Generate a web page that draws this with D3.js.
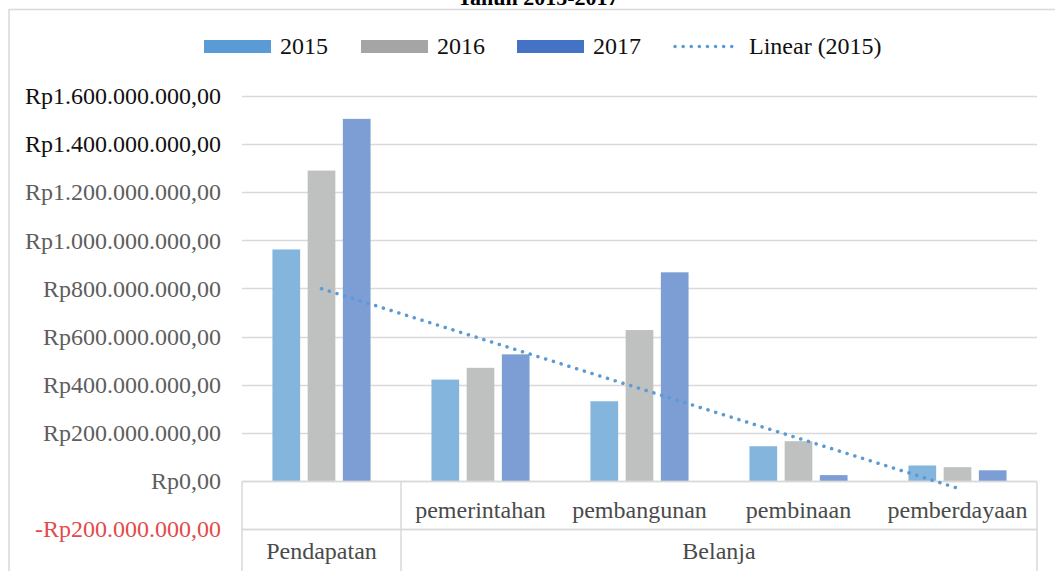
<!DOCTYPE html>
<html>
<head>
<meta charset="utf-8">
<script src="https://cdn.jsdelivr.net/npm/d3@7"></script>
<style>
  html, body { margin: 0; padding: 0; background: #fff; }
  svg { display: block; font-family: "Liberation Serif", "Times New Roman", serif; }
</style>
</head>
<body>
<svg id="chart" width="1055" height="571"></svg>
<script>
// ---- data ----
const title = "Tahun 2015-2017";
const categories = ["", "pemerintahan", "pembangunan", "pembinaan", "pemberdayaan"];
const groupNames = ["Pendapatan", "Belanja"];
const groupOf = ["Pendapatan", "Belanja", "Belanja", "Belanja", "Belanja"];
const years = ["2015", "2016", "2017"];
const values2015 = [962e6, 421e6, 331e6, 144e6, 64e6];
const values2016 = [1290e6, 470e6, 627e6, 165e6, 57e6];
const values2017 = [1505e6, 526e6, 867e6, 24e6, 44e6];
const yTicks = [-200e6, 0, 200e6, 400e6, 600e6, 800e6, 1000e6, 1200e6, 1400e6, 1600e6];
const trendLabel = "Linear (2015)";

// ---- styles ----
const legendColors = { "2015": "#5B9BD5", "2016": "#A5A5A5", "2017": "#4472C4" };
const barColors = { "2015": "#84B5DD", "2016": "#BEC1BF", "2017": "#7C9ED4" };
const gridColor = "#D9D9D9";

const series = { "2015": values2015, "2016": values2016, "2017": values2017 };

const svg = d3.select("#chart");
const plotL = 242, plotR = 1037, plotT = 96, plotB = 529;

const x0 = d3.scaleBand().domain(d3.range(categories.length)).range([plotL, plotR]).padding(0);
const x1 = d3.scaleBand().domain(years).range([0, x0.bandwidth()]).paddingInner(0.213).paddingOuter(0.865);
const y = d3.scaleLinear().domain([yTicks[0], yTicks[yTicks.length - 1]]).range([plotB, plotT]);

const loc = d3.formatLocale({ decimal: ",", thousands: ".", grouping: [3], currency: ["Rp", ""], minus: "-" });
const fmt = loc.format("$,.2f");

// chart border
svg.append("rect").attr("x", 9).attr("y", 9.5).attr("width", 1100).attr("height", 600)
  .attr("fill", "none").attr("stroke", gridColor).attr("stroke-width", 1.5);

// title (clipped at top)
svg.append("text").attr("x", 538).attr("y", 5).attr("text-anchor", "middle")
  .attr("font-size", 22).attr("font-weight", "bold").attr("fill", "#000").text(title);

// gridlines
svg.append("g").selectAll("line").data(yTicks).join("line")
  .attr("x1", plotL).attr("x2", plotR)
  .attr("y1", d => Math.round(y(d)) + 0.5).attr("y2", d => Math.round(y(d)) + 0.5)
  .attr("stroke", gridColor).attr("stroke-width", 1.5);

// y axis labels
const yAxis = d3.axisLeft(y).tickValues(yTicks).tickFormat(fmt).tickSize(0).tickPadding(0);
const yg = svg.append("g").attr("transform", `translate(221,0)`).call(yAxis);
yg.select(".domain").remove();
yg.selectAll("text").attr("font-family", "Liberation Serif").attr("font-size", 24)
  .attr("fill", d => d < 0 ? "#E34B4B" : (d >= 1400e6 ? "#111" : "#5E5E5E"));

// bars
const bars = svg.append("g");
years.forEach(yr => {
  bars.selectAll(null).data(series[yr]).join("rect")
    .attr("x", (d, i) => x0(i) + x1(yr))
    .attr("width", x1.bandwidth())
    .attr("y", d => y(Math.max(0, d)))
    .attr("height", d => Math.abs(y(d) - y(0)))
    .attr("fill", barColors[yr]);
});

// category axis box
const zeroY = Math.round(y(0)) + 0.5;
const box = svg.append("g").attr("stroke", gridColor).attr("stroke-width", 1.5);
box.append("line").attr("x1", plotL).attr("x2", plotR).attr("y1", zeroY).attr("y2", zeroY);
box.append("line").attr("x1", plotL).attr("x2", plotR).attr("y1", plotB + 0.5).attr("y2", plotB + 0.5);
const groupEdges = [plotL];
groupNames.forEach(g => {
  const idx = groupOf.map((v, i) => v === g ? i : -1).filter(i => i >= 0);
  groupEdges.push(x0(idx[idx.length - 1]) + x0.bandwidth());
});
groupEdges.forEach(ex => {
  box.append("line").attr("x1", ex).attr("x2", ex).attr("y1", zeroY).attr("y2", 575);
});

// level-1 labels
const xAxis = d3.axisBottom(x0).tickFormat(i => categories[i]).tickSize(0).tickPadding(0);
const xg = svg.append("g").attr("transform", `translate(0,${zeroY})`).call(xAxis);
xg.select(".domain").remove();
xg.selectAll("text").attr("font-family", "Liberation Serif").attr("font-size", 24)
  .attr("fill", "#4A4A4A").attr("dy", null).attr("y", 36);

// level-2 labels
groupNames.forEach(g => {
  const idx = groupOf.map((v, i) => v === g ? i : -1).filter(i => i >= 0);
  const cx = (x0(idx[0]) + x0(idx[idx.length - 1]) + x0.bandwidth()) / 2;
  svg.append("text").attr("x", cx).attr("y", 559).attr("text-anchor", "middle")
    .attr("font-size", 24).attr("fill", "#4A4A4A").text(g);
});

// linear trendline for 2015 (least squares over category index)
const xs = values2015.map((d, i) => i + 1);
const mx = d3.mean(xs), my = d3.mean(values2015);
const slope = d3.sum(xs, (xv, i) => (xv - mx) * (values2015[i] - my)) / d3.sum(xs, xv => (xv - mx) ** 2);
const intercept = my - slope * mx;
const trendPts = [xs[0], xs[xs.length - 1]].map(xv => [x0(xv - 1) + x0.bandwidth() / 2, y(intercept + slope * xv)]);
svg.append("path").attr("d", d3.line()(trendPts))
  .attr("fill", "none").attr("stroke", legendColors["2015"]).attr("stroke-width", 3.5)
  .attr("stroke-linecap", "round").attr("stroke-dasharray", "0.1 8");

// legend
const legend = svg.append("g");
const legItems = [
  { key: "2015", sx: 204, tx: 280 },
  { key: "2016", sx: 361, tx: 437 },
  { key: "2017", sx: 517, tx: 593 }
];
legItems.forEach(it => {
  legend.append("rect").attr("x", it.sx).attr("y", 40).attr("width", 67).attr("height", 13)
    .attr("fill", legendColors[it.key]);
  legend.append("text").attr("x", it.tx).attr("y", 54).attr("font-size", 24).attr("fill", "#111").text(it.key);
});
legend.append("line").attr("x1", 675).attr("x2", 738).attr("y1", 46.5).attr("y2", 46.5)
  .attr("stroke", legendColors["2015"]).attr("stroke-width", 3.5)
  .attr("stroke-linecap", "round").attr("stroke-dasharray", "0.1 8");
legend.append("text").attr("x", 749).attr("y", 54).attr("font-size", 24).attr("fill", "#111").text(trendLabel);
</script>
</body>
</html>
